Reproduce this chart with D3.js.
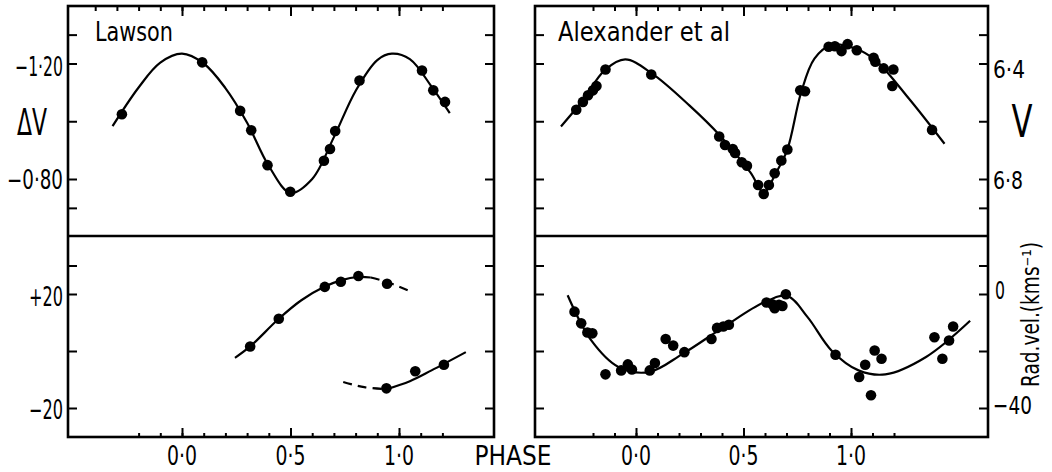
<!DOCTYPE html>
<html>
<head>
<meta charset="utf-8">
<script src="https://cdn.jsdelivr.net/npm/d3@7"></script>
<style>
body { margin: 0; background: #fff; }
text { font-family: "DejaVu Sans Condensed", "DejaVu Sans", sans-serif; fill: #000; }
</style>
</head>
<body>
<div id="chart"></div>
<script>
// Lawson: light curve (phase, delta V)
var lawsonLightPts = [[-0.277,-1.024],[0.093,-1.204],[0.268,-1.036],[0.319,-0.969],[0.394,-0.848],[0.499,-0.756],
    [0.654,-0.863],[0.682,-0.904],[0.706,-0.966],[0.818,-1.141],[1.106,-1.176],[1.158,-1.107],[1.212,-1.067]];
var lawsonLightFit = [[-0.32,-0.983],[-0.2,-1.117],[-0.1,-1.203],[0.0,-1.234],[0.1,-1.200],[0.2,-1.115],[0.3,-0.995],
    [0.4,-0.845],[0.5,-0.752],[0.6,-0.800],[0.7,-0.945],[0.8,-1.105],[0.9,-1.212],[0.967,-1.234],[1.05,-1.215],
    [1.15,-1.12],[1.234,-1.028]];

// Lawson: radial velocity (phase, km/s)
var lawsonVelPts = [[0.314,1.6],[0.446,11.3],[0.658,22.5],[0.732,24.3],[0.813,26.3],[0.945,23.6],
    [0.942,-13.1],[1.075,-7.1],[1.207,-4.8]];
var lawsonVelUpper = [[0.244,-2.4],[0.314,1.6],[0.446,11.3],[0.55,17.8],[0.658,22.6],[0.732,24.8],[0.813,26.0],[0.87,25.8]];
var lawsonVelUpperDash = [[0.87,25.8],[0.945,24.2],[1.05,21.0]];
var lawsonVelLowerDash = [[0.743,-10.9],[0.84,-12.7],[0.942,-13.4]];
var lawsonVelLower = [[0.942,-13.4],[1.05,-10.6],[1.15,-6.8],[1.308,-0.4]];

// Alexander et al: light curve (phase, V)
var alexLightPts = [[-0.278,6.560],[-0.247,6.533],[-0.223,6.510],[-0.200,6.493],[-0.184,6.478],[-0.142,6.421],
    [0.071,6.438],[0.387,6.653],[0.414,6.682],[0.450,6.696],[0.461,6.710],[0.492,6.742],[0.516,6.754],
    [0.568,6.821],[0.594,6.852],[0.618,6.821],[0.645,6.780],[0.676,6.736],[0.704,6.698],[0.764,6.493],
    [0.786,6.496],[0.896,6.342],[0.925,6.340],[0.956,6.357],[0.984,6.333],[1.027,6.354],[1.105,6.380],
    [1.113,6.394],[1.152,6.417],[1.197,6.421],[1.192,6.478],[1.377,6.630]];
var alexLightFit = [[-0.349,6.618],[-0.25,6.53],[-0.145,6.423],[-0.05,6.386],[0.075,6.435],[0.248,6.545],
    [0.39,6.649],[0.532,6.777],[0.594,6.846],[0.65,6.78],[0.704,6.698],[0.767,6.503],[0.83,6.383],
    [0.909,6.336],[1.019,6.348],[1.113,6.388],[1.27,6.522],[1.435,6.678]];

// Alexander et al: radial velocity (phase, km/s)
var alexVelPts = [[-0.286,-6.2],[-0.255,-10.3],[-0.226,-13.5],[-0.203,-13.8],[-0.142,-28.2],[-0.069,-26.8],
    [-0.038,-24.7],[-0.019,-26.5],[0.064,-26.8],[0.088,-24.2],[0.138,-15.8],[0.173,-18.1],[0.225,-20.4],
    [0.351,-15.8],[0.377,-11.9],[0.406,-11.4],[0.432,-10.8],[0.607,-3.0],[0.634,-3.6],[0.645,-5.0],
    [0.665,-3.8],[0.681,-4.2],[0.697,-0.1],[0.928,-21.3],[1.038,-29.1],[1.066,-24.8],[1.093,-35.5],
    [1.110,-19.8],[1.142,-22.7],[1.388,-15.2],[1.425,-22.7],[1.456,-16.3],[1.475,-11.4]];
var alexVelFit = [[-0.318,-0.45],[-0.208,-16.3],[-0.082,-25.6],[0.06,-27.4],[0.217,-21.0],[0.406,-11.7],
    [0.594,-3.0],[0.704,-0.7],[0.799,-8.2],[0.909,-19.8],[1.035,-26.8],[1.16,-28.2],[1.349,-22.1],[1.554,-9.4]];

// ticks
var phaseMajor = [0, 0.5, 1.0];
var phaseLabels = ["0·0", "0·5", "1·0"];
var dvTicks = [-1.3, -1.2, -1.0, -0.8, -0.7];
var dvLabels = ["−1·20", "−0·80"];
var vTicks = [6.3, 6.4, 6.6, 6.8, 6.9];
var vLabels = ["6·4", "6·8"];
var lawVelTicks = [30, 20, 0, -20];
var lawVelLabels = ["+20", "−20"];
var alexVelTicks = [10, 0, -20, -40];
var alexVelLabels = ["0", "−40"];

var width = 1052, height = 472;
var yTop = 6, yMid = 236, yBot = 437;

var svg = d3.select("#chart").append("svg")
    .attr("width", width)
    .attr("height", height);

var left = {
    x0: 68, x1: 494,
    x: d3.scaleLinear().domain([0, 1]).range([182, 399]),
    yUp: d3.scaleLinear().domain([-1.2, -0.8]).range([63.5, 179]),
    yDn: d3.scaleLinear().domain([20, -20]).range([294, 408]),
    topMinor: d3.range(-4, 13).map(function(i) { return i / 10; }),
    botMinor: d3.range(-2, 13).map(function(i) { return i / 10; })
};
var right = {
    x0: 535, x1: 988,
    x: d3.scaleLinear().domain([0, 1]).range([636, 851]),
    yUp: d3.scaleLinear().domain([6.4, 6.8]).range([63.5, 179]),
    yDn: d3.scaleLinear().domain([0, -40]).range([294, 408]),
    topMinor: d3.range(-2, 13).map(function(i) { return i / 10; }),
    botMinor: d3.range(-2, 13).map(function(i) { return i / 10; })
};

function noDomain(g) {
    g.select(".domain").remove();
    g.selectAll("line").attr("stroke", "#000").attr("stroke-width", 2);
    g.selectAll("text").remove();
}

function drawFrame(p, upTicks, dnTicks) {
    // outer box and middle divider
    svg.append("rect")
        .attr("x", p.x0).attr("y", yTop)
        .attr("width", p.x1 - p.x0).attr("height", yBot - yTop)
        .attr("fill", "none").attr("stroke", "#000").attr("stroke-width", 2.6);
    svg.append("line")
        .attr("x1", p.x0).attr("x2", p.x1).attr("y1", yMid).attr("y2", yMid)
        .attr("stroke", "#000").attr("stroke-width", 2.6);

    // inward ticks on both sides
    [[p.yUp, upTicks], [p.yDn, dnTicks]].forEach(function(s) {
        svg.append("g").attr("transform", "translate(" + p.x0 + ",0)")
            .call(d3.axisLeft(s[0]).tickValues(s[1]).tickSize(-9)).call(noDomain);
        svg.append("g").attr("transform", "translate(" + p.x1 + ",0)")
            .call(d3.axisRight(s[0]).tickValues(s[1]).tickSize(-9)).call(noDomain);
    });

    // phase ticks top and bottom
    svg.append("g").attr("transform", "translate(0," + yTop + ")")
        .call(d3.axisTop(p.x).tickValues(p.topMinor).tickSize(-5)).call(noDomain);
    svg.append("g").attr("transform", "translate(0," + yTop + ")")
        .call(d3.axisTop(p.x).tickValues(phaseMajor).tickSize(-10)).call(noDomain);
    svg.append("g").attr("transform", "translate(0," + yBot + ")")
        .call(d3.axisBottom(p.x).tickValues(p.botMinor).tickSize(-4)).call(noDomain);
    svg.append("g").attr("transform", "translate(0," + yBot + ")")
        .call(d3.axisBottom(p.x).tickValues(phaseMajor).tickSize(-9)).call(noDomain);

    phaseMajor.forEach(function(v, i) {
        label(phaseLabels[i], p.x(v), 465, "middle", 30, 27);
    });
}

function label(txt, x, y, anchor, len, size) {
    var t = svg.append("text")
        .attr("x", x).attr("y", y)
        .attr("text-anchor", anchor)
        .style("font-size", size + "px")
        .text(txt);
    if (len) t.attr("textLength", len).attr("lengthAdjust", "spacingAndGlyphs");
    return t;
}

function curve(p, ys, data, dashed) {
    var line = d3.line()
        .x(function(d) { return p.x(d[0]); })
        .y(function(d) { return ys(d[1]); })
        .curve(d3.curveCatmullRom.alpha(0.5));
    svg.append("path")
        .datum(data)
        .attr("d", line)
        .attr("fill", "none")
        .attr("stroke", "#000")
        .attr("stroke-width", 2.2)
        .attr("stroke-dasharray", dashed ? "9,6" : null);
}

function dots(p, ys, data) {
    svg.append("g").selectAll("circle")
        .data(data)
        .enter().append("circle")
        .attr("cx", function(d) { return p.x(d[0]); })
        .attr("cy", function(d) { return ys(d[1]); })
        .attr("r", 5.3)
        .attr("fill", "#000");
}

drawFrame(left, dvTicks, lawVelTicks);
drawFrame(right, vTicks, alexVelTicks);

// Lawson panels
curve(left, left.yUp, lawsonLightFit);
dots(left, left.yUp, lawsonLightPts);
curve(left, left.yDn, lawsonVelUpper);
curve(left, left.yDn, lawsonVelUpperDash, true);
curve(left, left.yDn, lawsonVelLowerDash, true);
curve(left, left.yDn, lawsonVelLower);
dots(left, left.yDn, lawsonVelPts);

// Alexander et al panels
curve(right, right.yUp, alexLightFit);
dots(right, right.yUp, alexLightPts);
curve(right, right.yDn, alexVelFit);
dots(right, right.yDn, alexVelPts);

// left axis labels
label(dvLabels[0], 63, left.yUp(-1.2) + 12, "end", 48, 26);
label(dvLabels[1], 63, left.yUp(-0.8) + 10, "end", 56, 26);
label(lawVelLabels[0], 63, left.yDn(20) + 12, "end", 34, 26);
label(lawVelLabels[1], 63, left.yDn(-20) + 11, "end", 34, 26);
label("ΔV", 32, 135, "middle", 30, 37);

// right axis labels
label(vLabels[0], 993, right.yUp(6.4) + 14, "start", 32, 25);
label(vLabels[1], 993, right.yUp(6.8) + 10, "start", 30, 25);
label(alexVelLabels[0], 995, right.yDn(0) + 5, "start", 10, 25);
label(alexVelLabels[1], 993, right.yDn(-40) + 6, "start", 39, 25);
label("V", 1022, 137, "middle", 21, 44);
label("Rad.vel.(kms⁻¹)", 0, 0, "start", 145, 24)
    .attr("transform", "translate(1039,387) rotate(-90)");

// titles
label("Lawson", 95, 41, "start", 78, 26);
label("Alexander et al", 558, 41, "start", 172, 26);
label("PHASE", 513, 465, "middle", 77, 27);
</script>
</body>
</html>
